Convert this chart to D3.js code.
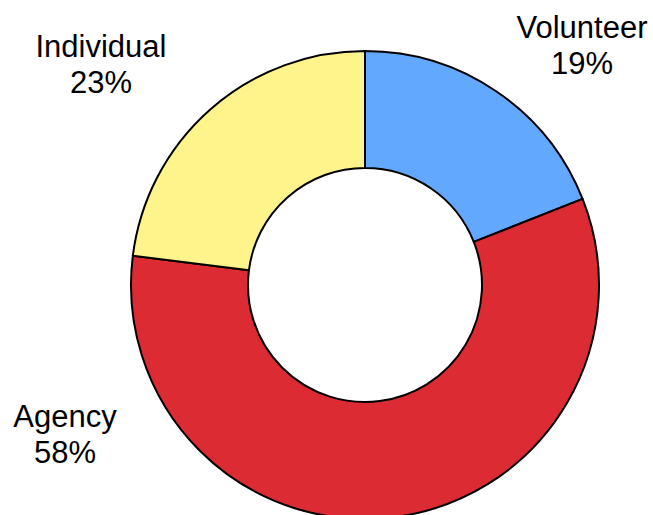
<!DOCTYPE html>
<html lang="en">

<head>
  <meta charset="UTF-8">
  <title>Donut</title>
  <style>
    body { margin: 0; background: #fff; }
  </style>
</head>

<body>
  <svg id="svg" width="653" height="515"></svg>

  <script src="https://d3js.org/d3.v7.min.js"></script>
  <script>
    const categories = ['Volunteer', 'Agency', 'Individual']
    const shares = [19, 58, 23]
    const colors = ['#61a8fe', '#dc2b33', '#fff38b']

    // label anchors (centre x, first baseline y) for each slice
    const labelPos = [[582, 38], [65, 427], [101, 57]]

    const data = categories.map((c, i) => ({ name: c, value: shares[i] }))

    const cx = 365
    const cy = 285
    const outer = 234
    const inner = 117

    const pie = d3.pie()
      .sort(null)
      .value(d => d.value)

    const arc = d3.arc()
      .innerRadius(inner)
      .outerRadius(outer)

    const colorScale = d3.scaleOrdinal()
      .domain(categories)
      .range(colors)

    const svg = d3.select('#svg')

    svg.append('g')
      .attr('transform', `translate(${cx},${cy})`)
      .selectAll('path')
      .data(pie(data))
      .enter()
      .append('path')
      .attr('d', arc)
      .attr('fill', d => colorScale(d.data.name))
      .attr('stroke', '#000')
      .attr('stroke-width', 2)
      .attr('stroke-linejoin', 'round')

    const labels = svg.append('g')
      .selectAll('text')
      .data(data)
      .enter()
      .append('text')
      .attr('text-anchor', 'middle')
      .style('font-family', 'Liberation Sans, Arial, sans-serif')
      .style('font-size', '31px')
      .attr('fill', '#000')

    labels.append('tspan')
      .attr('x', (d, i) => labelPos[i][0])
      .attr('y', (d, i) => labelPos[i][1])
      .text(d => d.name)

    labels.append('tspan')
      .attr('x', (d, i) => labelPos[i][0])
      .attr('y', (d, i) => labelPos[i][1] + 36)
      .text(d => d.value + '%')
  </script>

</body>

</html>
